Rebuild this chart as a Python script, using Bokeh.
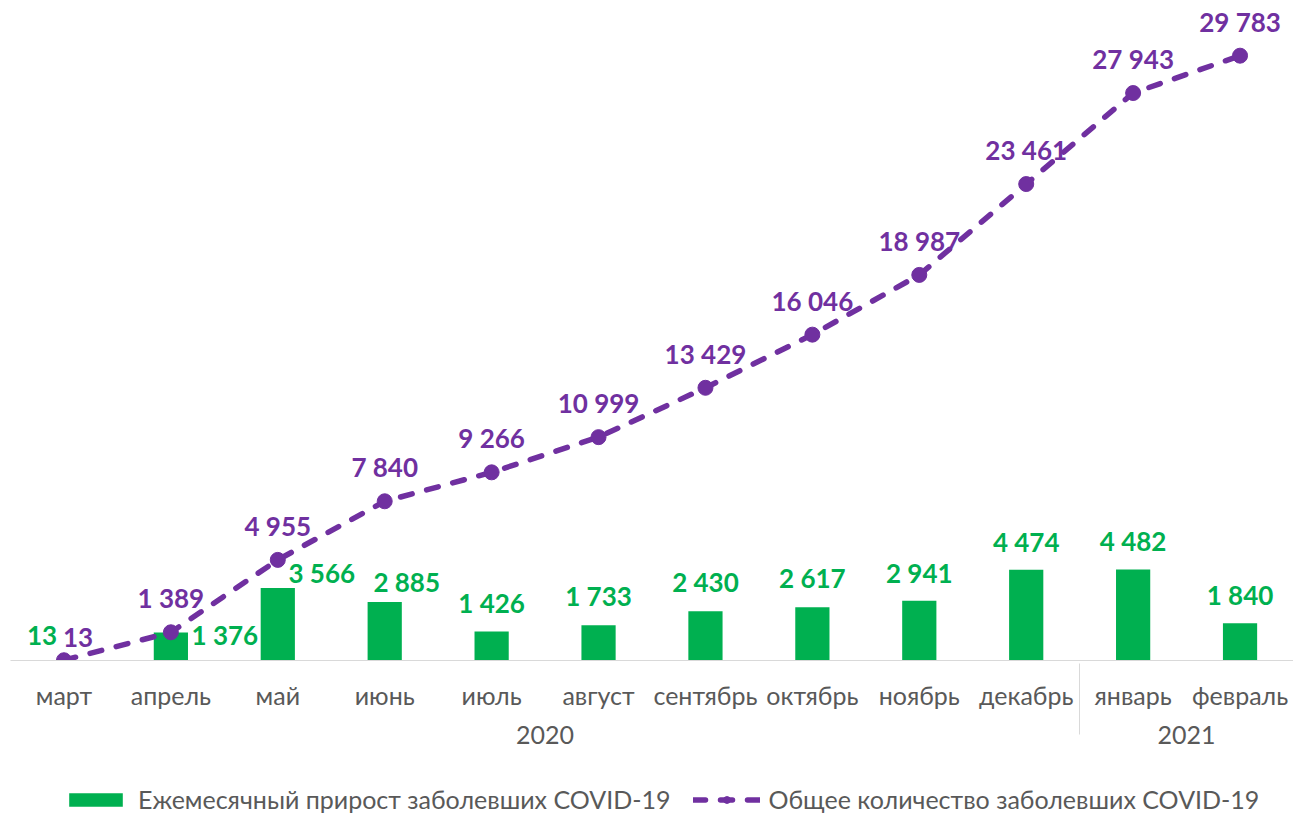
from bokeh.plotting import figure
from bokeh.layouts import column
from bokeh.models import ColumnDataSource, FactorRange, Range1d, Legend, LegendItem, LabelSet
from bokeh.core.properties import value
from bokeh.embed import file_html
from bokeh.resources import INLINE

years = ["2020"] * 10 + ["2021"] * 2
months = ["март", "апрель", "май", "июнь", "июль", "август", "сентябрь",
          "октябрь", "ноябрь", "декабрь", "январь", "февраль"]
monthly = [13, 1376, 3566, 2885, 1426, 1733, 2430, 2617, 2941, 4474, 4482, 1840]
total = [13, 1389, 4955, 7840, 9266, 10999, 13429, 16046, 18987, 23461, 27943, 29783]
bar_name = "Ежемесячный прирост заболевших COVID-19"
line_name = "Общее количество заболевших COVID-19"

GREEN = "#00B050"
PURPLE = "#7030A0"
GREY = "#595959"
FONT = "Lato"


def fmt(v):
    return f"{v:,}".replace(",", " ")


factors = list(zip(years, months))

# label offsets (styling, screen px)
bar_dx = [-22, 54, 44, 22, 0, 0, 0, 0, 0, 0, 0, 0]
bar_dy = [25, -2, 15, 20, 29, 29, 29, 29, 28, 28, 28, 28]
line_dx = [14] + [0] * 11
line_dy = [23] + [34] * 11

src = ColumnDataSource(dict(
    x=factors, monthly=monthly, total=total,
    mlab=[fmt(v) for v in monthly], tlab=[fmt(v) for v in total],
    bdx=bar_dx, bdy=bar_dy, ldx=line_dx, ldy=line_dy,
))

BAR_STYLE = dict(fill_color=GREEN, line_color=None)
LINE_STYLE = dict(line_color=PURPLE, line_width=5.5, line_dash="12 15", line_cap="round")
PT_STYLE = dict(size=15, fill_color=PURPLE, line_color=PURPLE)

p = figure(
    x_range=FactorRange(*factors, factor_padding=0, group_padding=0, range_padding=0),
    y_range=Range1d(0, 32500),
    frame_width=1283, frame_height=660, output_backend="svg", toolbar_location=None,
    min_border_left=10, min_border_right=0, min_border_top=0, min_border_bottom=115,
)
p.outline_line_color = None
p.grid.visible = False
p.yaxis.visible = False

p.vbar(x="x", top="monthly", width=0.32, source=src, **BAR_STYLE)
p.line(x="x", y="total", source=src, **LINE_STYLE)
p.scatter(x="x", y="total", source=src, **PT_STYLE)

p.add_layout(LabelSet(x="x", y="monthly", text="mlab", source=src, x_offset="bdx", y_offset="bdy",
                      text_align="center", text_baseline="middle", text_color=GREEN,
                      text_font=value(FONT), text_font_style="bold", text_font_size="26px"))
p.add_layout(LabelSet(x="x", y="total", text="tlab", source=src, x_offset="ldx", y_offset="ldy",
                      text_align="center", text_baseline="middle", text_color=PURPLE,
                      text_font=value(FONT), text_font_style="bold", text_font_size="26px"))

ax = p.xaxis[0]
ax.axis_line_color = "#d9d9d9"
ax.axis_line_width = 1
ax.major_tick_line_color = None
ax.minor_tick_line_color = None
ax.major_label_text_font = FONT
ax.major_label_text_font_size = "25px"
ax.major_label_text_color = GREY
ax.major_label_standoff = 13
ax.group_text_font = FONT
ax.group_text_font_size = "25px"
ax.group_text_font_style = "normal"
ax.group_text_color = GREY
ax.separator_line_color = "#d9d9d9"
ax.separator_line_width = 1

# legend strip below the chart (same series, drawn far below its visible y window)
lg = figure(x_range=FactorRange(*factors, factor_padding=0, group_padding=0, range_padding=0),
            y_range=Range1d(1000000, 1001000), frame_width=1283, frame_height=39,
            output_backend="svg", toolbar_location=None,
            min_border_left=10, min_border_right=0, min_border_top=0, min_border_bottom=0)
lg.outline_line_color = None
lg.grid.visible = False
lg.axis.visible = False
r_bar = lg.vbar(x="x", top="monthly", width=0.32, source=src, **BAR_STYLE)
r_line = lg.line(x="x", y="total", source=src, **LINE_STYLE)
r_pt = lg.scatter(x="x", y="total", source=src, **PT_STYLE)

legend = Legend(items=[
    LegendItem(label=bar_name, renderers=[r_bar]),
    LegendItem(label=line_name, renderers=[r_line, r_pt]),
], orientation="horizontal", location=(52, 0), border_line_color=None,
    background_fill_alpha=0, label_text_font=FONT, label_text_font_size="25px",
    label_text_color=GREY, glyph_width=67, glyph_height=17, spacing=22,
    label_standoff=9, padding=0, margin=0)
lg.add_layout(legend, "center")

open("out.html", "w").write(file_html(column(p, lg, spacing=0), INLINE))
